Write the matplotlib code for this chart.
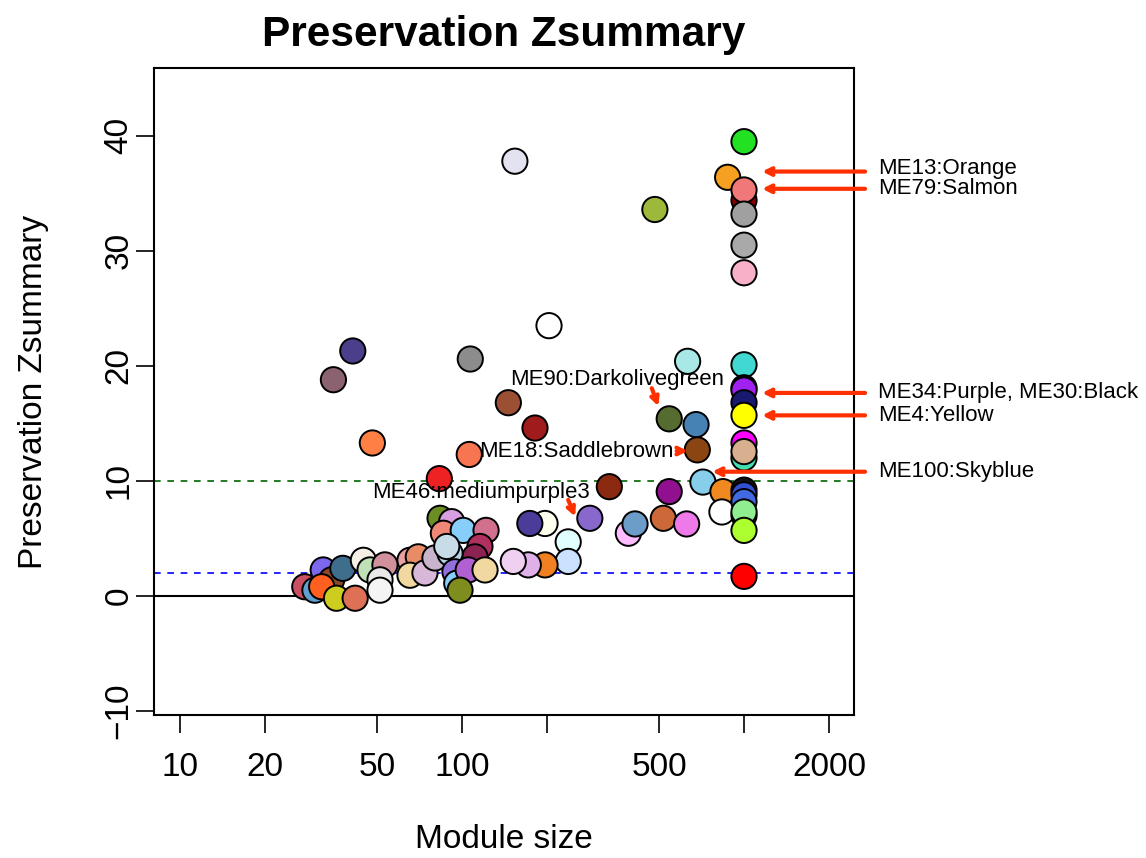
import matplotlib.pyplot as plt
from matplotlib.ticker import FixedLocator, NullLocator

plt.rcParams['font.family'] = ['Liberation Sans', 'DejaVu Sans']

# module size, Zsummary and colour of each module
module_size = [
    154, 1000, 875, 1000, 1000, 1000, 1000, 1000, 483, 203.5,
    41.0, 35.0, 107, 146, 181.5, 48.1, 106.1, 83.1, 631, 1000,
    1000, 1000, 1000, 1000, 543, 676, 683, 1000, 1000, 1000,
    715, 842, 835, 1000, 1000, 1000, 1000, 1000, 1000, 1000,
    333, 543, 284, 517.6, 626, 389, 410.7, 197, 238, 238,
    197, 171.8, 152, 174, 83.6, 91.9, 85.9, 101, 121.7, 115.8,
    111.2, 65.4, 70, 65.4, 73.9, 80.2, 90.7, 88.3, 94.4, 95.8,
    105.2, 120.7, 98.4, 27.7, 30.1, 32.2, 34.5, 31.8, 37.8, 35.9,
    41.8, 44.7, 47.2, 53.3, 51.2, 51.2,
]
zsummary = [
    37.8, 39.5, 36.4, 34.4, 35.3, 33.2, 30.5, 28.1, 33.6, 23.5,
    21.3, 18.8, 20.6, 16.8, 14.6, 13.3, 12.3, 10.2, 20.4, 20.1,
    18.1, 17.9, 16.8, 15.7, 15.4, 14.9, 12.7, 13.3, 12.0, 12.55,
    9.9, 9.07, 7.3, 9.2, 8.8, 8.2, 7.0, 7.3, 5.7, 1.7,
    9.5, 9.07, 6.75, 6.75, 6.26, 5.45, 6.26, 6.3, 4.7, 3.0,
    2.7, 2.7, 3.0, 6.3, 6.75, 6.46, 5.45, 5.7, 5.7, 4.3,
    3.4, 3.1, 3.4, 1.8, 2.0, 3.3, 3.7, 4.3, 2.1, 1.1,
    2.26, 2.26, 0.5, 0.8, 0.5, 2.26, 1.4, 0.8, 2.4, -0.2,
    -0.2, 3.1, 2.26, 2.7, 1.4, 0.5,
]
colors = [
    '#E2E2F0', '#22E022', '#F5A020', '#8B0000', '#F07878', '#A0A0A0', '#A9A9A9', '#F8B0C8', '#9DB83A', '#FFFFFF',
    '#4B3F8C', '#8B6370', '#8C8C8C', '#9B5034', '#A01C1C', '#FF7F45', '#F87552', '#EE2222', '#A8E8E6', '#40D8D0',
    '#000000', '#A020F0', '#191970', '#FFFF00', '#556B2F', '#4682B4', '#8B4513', '#FF00FF', '#40E0B0', '#D8B090',
    '#87CEEB', '#F08A20', '#FFFFFF', '#111111', '#3050D0', '#4169E1', '#208020', '#90EE90', '#ADFF2F', '#FF0000',
    '#8B2A10', '#901090', '#8968CD', '#CD6839', '#EE7AE9', '#FFBBFF', '#6C9CC8', '#FFFFF0', '#E0FFFF', '#CAE1FF',
    '#F08020', '#E0B0E8', '#F0D0F0', '#4B3C9A', '#6B8E23', '#D8A0E0', '#F08878', '#87CEFA', '#D0708C', '#B03060',
    '#8B2252', '#E9A0A0', '#E88C68', '#F0D8A0', '#D8B8D8', '#C8B4CC', '#B4D4E4', '#C8DCE8', '#9370DB', '#87CEFA',
    '#B060D0', '#F0D8A0', '#7F8C1E', '#C85060', '#60A0D0', '#7B68EE', '#8B4A2A', '#FF6020', '#3E6E8C', '#CDCD20',
    '#DD7055', '#F5F0E6', '#C0E0B8', '#D0909C', '#E8E8E8', '#F4F4F4',
]

# labels: text, text position, arrow tail, arrow head
labels = [
    ('ME13:Orange', (2985, 37.2), (2687, 36.9), (1159, 36.9)),
    ('ME79:Salmon', (2985, 35.4), (2687, 35.4), (1159, 35.4)),
    ('ME34:Purple, ME30:Black', (2985, 17.7), (2687, 17.65), (1159, 17.65)),
    ('ME4:Yellow', (2985, 15.65), (2687, 15.7), (1159, 15.7)),
    ('ME100:Skyblue', (2985, 10.8), (2687, 10.8), (771, 10.8)),
]
inner_labels = [
    ('ME90:Darkolivegreen', (355, 18.8), (471, 18.06), (497, 16.5)),
    ('ME18:Saddlebrown', (253.6, 12.6), (577, 12.6), (632, 12.6)),
    ('ME46:mediumpurple3', (116.6, 9.0), (238, 8.35), (252, 6.9)),
]

fig = plt.figure(figsize=(11.46, 8.58), dpi=100)
ax = fig.add_axes([0.1344, 0.1667, 0.6108, 0.754])

ax.axhline(0, color='black', lw=1.5, zorder=1)
ax.axhline(2, color='blue', lw=1.2, ls=(0, (4, 4)), zorder=1)
ax.axhline(10, color='#006400', lw=1.2, ls=(0, (4, 4)), zorder=1)

ax.scatter(module_size, zsummary, s=330, c=colors, edgecolors='black',
           linewidths=1.4, zorder=3)

ax.set_xscale('log')
ax.set_xlim(8.09, 2455)
ax.set_ylim(-10.35, 45.9)

ax.xaxis.set_major_locator(FixedLocator([10, 20, 50, 100, 200, 500, 1000, 2000]))
ax.xaxis.set_minor_locator(NullLocator())
ax.set_xticklabels(['10', '20', '50', '100', '', '500', '', '2000'])
ax.set_yticks([-10, 0, 10, 20, 30, 40])
ax.set_yticklabels(['\u221210', '0', '10', '20', '30', '40'], rotation=90, va='center')
ax.tick_params(axis='both', length=13, width=1.2, labelsize=24)
ax.tick_params(axis='x', pad=14)
ax.tick_params(axis='y', pad=1)
for sp in ax.spines.values():
    sp.set_linewidth(1.5)

ax.set_xlabel('Module size', fontsize=24, va='center')
ax.xaxis.set_label_coords(0.5, -0.193)
ax.set_ylabel('Preservation Zsummary', fontsize=24, va='center')
ax.yaxis.set_label_coords(-0.172, 0.5)
fig.text(0.4398, 1 - 46 / 858, 'Preservation Zsummary', fontsize=30.5,
         fontweight='bold', ha='center', va='baseline')

red = '#FF3000'
for txt, tpos, tail, head in labels + inner_labels:
    ax.text(tpos[0], tpos[1], txt, fontsize=16, va='center',
            ha='left' if tpos[0] > 2455 else 'center', clip_on=False, zorder=5)
    ax.annotate('', xy=head, xytext=tail, annotation_clip=False,
                arrowprops=dict(arrowstyle='->', color=red, lw=3,
                                mutation_scale=12, shrinkA=0, shrinkB=0),
                zorder=4)

fig.savefig('out.png', dpi=100)
